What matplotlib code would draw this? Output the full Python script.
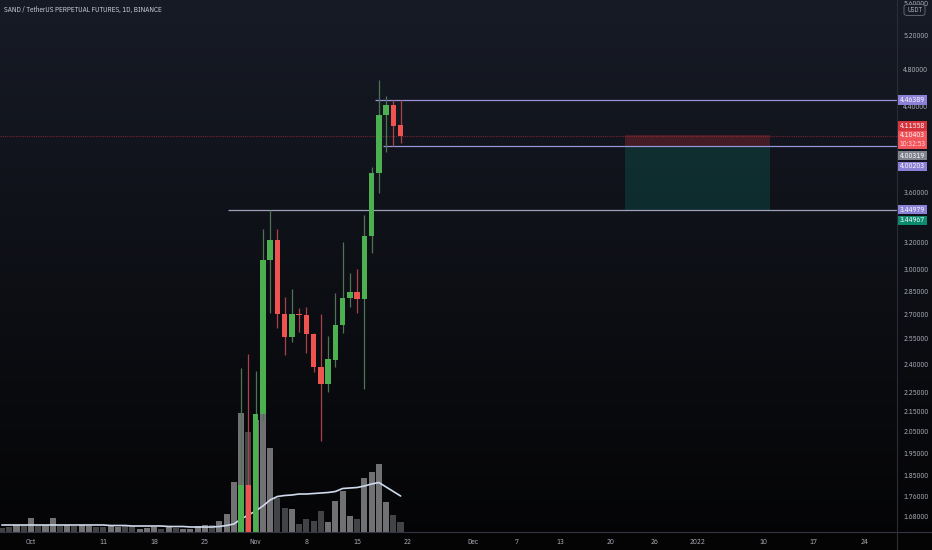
import numpy as np
import pandas as pd
import matplotlib
matplotlib.use("Agg")
import matplotlib.pyplot as plt
from matplotlib.patches import Rectangle, FancyBboxPatch
from matplotlib.lines import Line2D
from matplotlib.ticker import FixedLocator, FixedFormatter, NullLocator

# ---------------- data ----------------
title = "SAND / TetherUS PERPETUAL FUTURES, 1D, BINANCE"
candle_start = "2021-10-30"
opens  = [1.30, 1.807, 1.45, 2.135, 3.065, 3.213, 2.700, 2.558, 2.700, 2.694, 2.576, 2.384,
          2.291, 2.423, 2.631, 2.804, 2.843, 2.797, 3.243, 3.760, 4.310, 4.412, 4.209]
highs  = [2.379, 2.458, 2.362, 3.297, 3.450, 3.297, 2.810, 2.863, 2.738, 2.745, 2.580, 2.700,
          2.564, 2.837, 3.198, 2.973, 3.001, 3.407, 3.814, 4.679, 4.506, 4.464, 4.464]
lows   = [1.20, 1.35, 1.40, 2.10, 2.707, 2.613, 2.452, 2.528, 2.588, 2.464, 2.356, 2.004,
          2.248, 2.384, 2.582, 2.745, 2.707, 2.264, 3.116, 3.588, 3.951, 4.007, 4.035]
closes = [1.807, 1.45, 2.135, 3.065, 3.213, 2.700, 2.558, 2.700, 2.694, 2.576, 2.384, 2.291,
          2.429, 2.631, 2.804, 2.843, 2.797, 3.243, 3.760, 4.310, 4.412, 4.199, 4.104]

volume_start = "2021-09-27"
volumes = [4, 5, 7, 7,
           14, 7, 7, 14, 6, 7, 6, 7, 6, 5,
           5, 6, 5, 6, 6, 3, 4, 5, 3, 5,
           4, 3, 3, 6, 7, 7, 11, 18, 50, 119, 100,
           112, 122, 84, 34, 24, 23, 8, 13, 11, 21, 10, 31, 41, 16, 13, 54, 60, 68, 30, 17, 10]
volume_ma = [7, 7, 7, 7,
             7, 7, 7, 7, 7, 7, 7, 7, 7, 7,
             7, 6.5, 6.5, 6.5, 6, 6, 6, 6, 6, 5.5,
             5.5, 5.5, 5, 5, 5, 5, 5.5, 6.5, 8, 13, 17,
             21, 26, 32, 35.5, 36.5, 37, 38, 38, 38.5, 39, 39.5, 40.5, 43.5, 44, 44.5, 46, 48,
             49.5, 45, 40.5, 36]
early_up = [0, 0, 1, 0,
            1, 0, 1, 1, 0, 1, 0, 1, 1, 0,
            0, 1, 1, 0, 0, 1, 1, 1, 0, 1,
            0, 1, 1, 1, 1, 0, 1, 1, 1]

ray_prices = [4.46389, 4.00203, 3.44979]
ray_starts = ["2021-11-17 12:00", "2021-11-18 14:00", "2021-10-28 05:00"]
last_price = 4.10403
countdown = "10:32:53"
pos_entry, pos_stop, pos_target = 4.00319, 4.11558, 3.44967
pos_from, pos_to = "2021-12-21 23:00", "2022-01-10 23:00"

price_ticks = [5.6, 5.2, 4.8, 4.4, 3.6, 3.2, 3.0, 2.85, 2.7, 2.55, 2.4, 2.25, 2.15,
               2.05, 1.95, 1.85, 1.76, 1.68]
x_tick_dates = ["2021-10-01", "2021-10-11", "2021-10-18", "2021-10-25", "2021-11-01",
                "2021-11-08", "2021-11-15", "2021-11-22", "2021-12-01", "2021-12-07",
                "2021-12-13", "2021-12-20", "2021-12-26", "2022-01-01", "2022-01-10",
                "2022-01-17", "2022-01-24"]
x_tick_labels = ["Oct", "11", "18", "25", "Nov", "8", "15", "22", "Dec", "7", "13", "20",
                 "26", "2022", "10", "17", "24"]

# ---------------- helpers ----------------
BASE = pd.Timestamp("2021-11-01")


def dnum(s):
    return (pd.Timestamp(s) - BASE) / pd.Timedelta(days=1)


W, H = 932, 550
FONT = ["IBM Plex Sans Condensed", "DejaVu Sans"]
plt.rcParams["font.family"] = FONT
FS = 5.2

fig = plt.figure(figsize=(W / 100, H / 100), dpi=100)

# background gradient
bg = fig.add_axes([0, 0, 1, 1], zorder=-10)
top_c = np.array([23, 27, 38]) / 255.0
bot_c = np.array([4, 4, 5]) / 255.0
t = np.linspace(0, 1, H)[:, None]
grad = top_c[None, :] * (1 - t) + bot_c[None, :] * t
bg.imshow(grad[:, None, :], aspect="auto", extent=[0, 1, 0, 1], interpolation="bilinear")
bg.set_axis_off()

plot_right = 897
plot_bottom = 532
rect = [0, (H - plot_bottom) / H, plot_right / W, plot_bottom / H]
vax = fig.add_axes(rect, zorder=1)
pax = fig.add_axes(rect, zorder=2)
for a in (vax, pax):
    a.set_facecolor("none")
    for sp in a.spines.values():
        sp.set_visible(False)

xmin, xmax = -35.26, 88.47
vax.set_xlim(xmin, xmax)
pax.set_xlim(xmin, xmax)

# ---------------- volume ----------------
vx = np.array([dnum(d) for d in pd.date_range(volume_start, periods=len(volumes), freq="D")])
cx = np.array([dnum(d) for d in pd.date_range(candle_start, periods=len(opens), freq="D")])
up_flags = list(early_up) + [1 if c >= o else 0 for o, c in zip(opens, closes)]
vcols = ["#717174" if u else "#424346" for u in up_flags]
vax.bar(vx, volumes, width=0.86, color=vcols, linewidth=0)
vax.plot(vx, volume_ma, color="#cfdaec", lw=1.2, solid_capstyle="round")
vax.set_ylim(0, 532)
vax.set_xticks([])
vax.set_yticks([])

# ---------------- price ----------------
pax.set_yscale("log")
pax.set_ylim(1.618, 5.646)

for x, o, h, l, c in zip(cx, opens, highs, lows, closes):
    up = c >= o
    body = "#4caf50" if up else "#ef5350"
    wick = "#4f7455" if up else "#a8424b"
    pax.vlines(x, l, h, color=wick, lw=0.9, zorder=3)
    lo, hi = min(o, c), max(o, c)
    if hi / lo < 1.002:
        hi = lo * 1.002
    pax.bar(x, hi - lo, bottom=lo, width=0.78, color=body, linewidth=0, zorder=4)

# position tool boxes
x0, x1 = dnum(pos_from), dnum(pos_to)
pax.fill_between([x0, x1], pos_entry, pos_stop, color="#f23645", alpha=0.22, lw=0, zorder=1)
pax.fill_between([x0, x1], pos_target, pos_entry, color="#089981", alpha=0.2, lw=0, zorder=1)

# horizontal rays
ray_cols = ["#9894d6", "#9894d6", "#9fa1b8"]
for p, s, col in zip(ray_prices, ray_starts, ray_cols):
    pax.hlines(p, dnum(s), xmax, color=col, lw=0.9, zorder=2)

# last price line
pax.axhline(last_price, color="#f23645", alpha=0.45, lw=0.8, ls=(0, (1, 1)), zorder=2)

# axes ticks
pax.yaxis.tick_right()
pax.yaxis.set_major_locator(FixedLocator(price_ticks))
pax.yaxis.set_major_formatter(FixedFormatter([f"{p:.5f}" for p in price_ticks]))
pax.yaxis.set_minor_locator(NullLocator())
pax.tick_params(axis="y", which="both", length=0, pad=4.5, labelsize=FS, labelcolor="#b2b5be")
pax.set_xticks([dnum(d) for d in x_tick_dates])
pax.set_xticklabels(x_tick_labels)
pax.xaxis.set_minor_locator(NullLocator())
pax.tick_params(axis="x", which="both", length=0, pad=4, labelsize=FS, labelcolor="#b2b5be")

# separator lines
fig.add_artist(Line2D([0, 1], [(H - plot_bottom) / H] * 2, transform=fig.transFigure,
                      color="#34373f", lw=0.8, zorder=5))
fig.add_artist(Line2D([plot_right / W] * 2, [0, 1], transform=fig.transFigure,
                      color="#2a2d36", lw=0.8, zorder=5))

# title
fig.text(4 / W, 1 - 10 / H, title, color="#d1d4dc", fontsize=5.1, ha="left", va="center")

# USDT badge
fig.add_artist(FancyBboxPatch((904 / W, 1 - 15.5 / H), 21 / W, 11 / H,
                              boxstyle="round,pad=0,rounding_size=0.004",
                              transform=fig.transFigure, facecolor="#181b26",
                              edgecolor="#6b6e78", lw=0.6, zorder=20))
fig.text(914.5 / W, 1 - 10 / H, "USDT", color="#b2b5be", fontsize=FS - 0.4, ha="center",
         va="center", zorder=21)

# price labels on the right axis
fig.canvas.draw()


def price_label(price, dy, text, fc, h=9.5, sub=None):
    y_disp = pax.transData.transform((0, price))[1]
    yc = y_disp - dy
    top = yc + h / 2
    hh = h if sub is None else h + 8.5
    fig.add_artist(Rectangle((898 / W, (top - hh) / H), 29 / W, hh / H,
                             transform=fig.transFigure, facecolor=fc, edgecolor="none",
                             zorder=20))
    fig.text(912.5 / W, yc / H, text, color="#ffffff", fontsize=FS, ha="center",
             va="center", zorder=21)
    if sub is not None:
        fig.text(912.5 / W, (yc - 8.5) / H, sub, color="#ffe0e0", fontsize=FS - 0.2,
                 ha="center", va="center", zorder=21)


price_label(ray_prices[0], 0, f"{ray_prices[0]:.5f}", "#8b7fd6")
price_label(pos_stop, -8.6, f"{pos_stop:.5f}", "#d6343c")
price_label(last_price, -0.3, f"{last_price:.5f}", "#f0545a", sub=countdown)
price_label(pos_entry, 9.2, f"{pos_entry:.5f}", "#80838d")
price_label(ray_prices[1], 20.0, f"{ray_prices[1]:.5f}", "#8b7fd6")
price_label(ray_prices[2], 0, f"{ray_prices[2]:.5f}", "#8b7fd6")
price_label(pos_target, 10.7, f"{pos_target:.5f}", "#0c8a6e")

fig.savefig("out.png", dpi=100, facecolor="#0b0c10")
